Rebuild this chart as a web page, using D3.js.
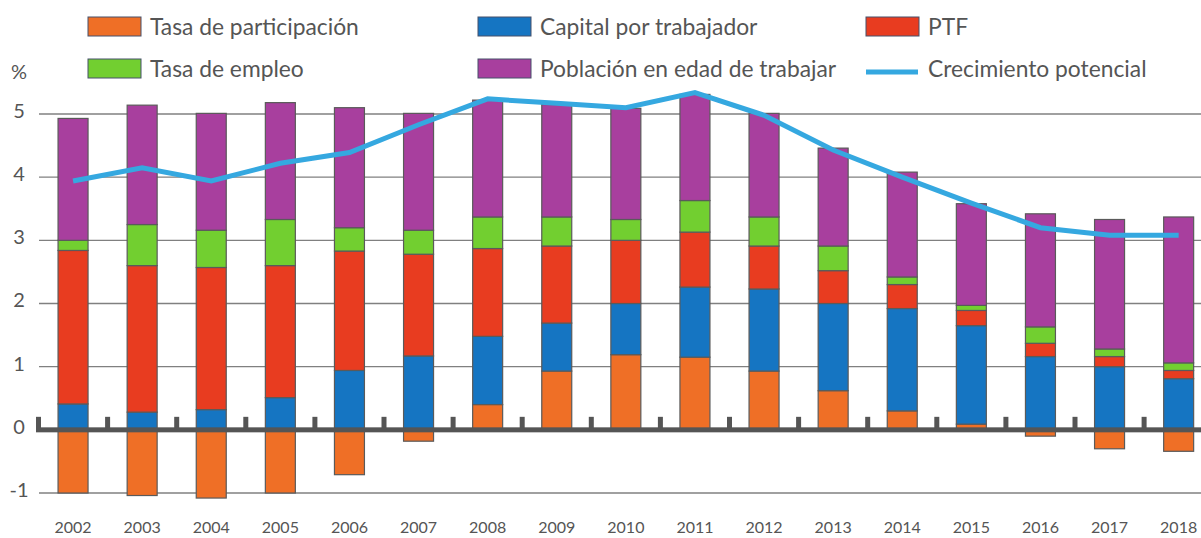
<!DOCTYPE html>
<html>
<head>
<meta charset="utf-8">
<script src="https://cdn.jsdelivr.net/npm/d3@7"></script>
<style>
  body { margin: 0; background: #fff; }
  svg { display: block; font-family: Lato, "Open Sans", sans-serif; }
</style>
</head>
<body>
<svg id="chart" width="1201" height="538"></svg>
<script>
var years = ["2002","2003","2004","2005","2006","2007","2008","2009","2010","2011","2012","2013","2014","2015","2016","2017","2018"];
// componentes (puntos porcentuales)
var participacion = [-1.00,-1.04,-1.08,-1.00,-0.71,-0.18,0.40,0.93,1.19,1.15,0.93,0.62,0.30,0.09,-0.10,-0.30,-0.34];
var capital       = [0.41,0.28,0.32,0.51,0.94,1.17,1.08,0.76,0.81,1.11,1.30,1.38,1.62,1.56,1.16,1.00,0.81];
var ptf           = [2.43,2.32,2.25,2.09,1.89,1.61,1.39,1.22,1.00,0.87,0.68,0.52,0.38,0.24,0.21,0.16,0.13];
var empleo        = [0.16,0.65,0.59,0.73,0.37,0.38,0.50,0.46,0.33,0.50,0.46,0.39,0.12,0.08,0.26,0.12,0.12];
var poblacion     = [1.93,1.89,1.85,1.85,1.90,1.85,1.85,1.78,1.76,1.68,1.64,1.55,1.66,1.61,1.79,2.05,2.31];
var crecimiento   = [3.94,4.15,3.94,4.22,4.39,4.83,5.24,5.17,5.10,5.34,4.98,4.43,4.00,3.59,3.20,3.08,3.08];
var yTicks = [-1,0,1,2,3,4,5];

var series = [
  {key: "participacion", label: "Tasa de participación", values: participacion, color: "#ef6f26"},
  {key: "capital", label: "Capital por trabajador", values: capital, color: "#1575c2"},
  {key: "ptf", label: "PTF", values: ptf, color: "#e83c20"},
  {key: "empleo", label: "Tasa de empleo", values: empleo, color: "#72cf30"},
  {key: "poblacion", label: "Población en edad de trabajar", values: poblacion, color: "#a83f9e"}
];
var lineColor = "#35a8e0";

var data = years.map(function(y, i) {
  var row = {year: y};
  series.forEach(function(s) { row[s.key] = s.values[i]; });
  return row;
});

var svg = d3.select("#chart");
var gridLeft = 39, right = 1201;

var x = d3.scaleBand()
  .domain(years)
  .range([38.5, 38.5 + 17 * 69.1])
  .paddingInner(0.566)
  .paddingOuter(0.283);

var y = d3.scaleLinear()
  .domain([-1, 5])
  .range([493, 114]);

var color = d3.scaleOrdinal()
  .domain(series.map(function(s) { return s.key; }))
  .range(series.map(function(s) { return s.color; }));

// gridlines
svg.append("g")
  .selectAll("line")
  .data(yTicks.filter(function(d) { return d !== 0; }))
  .enter().append("line")
    .attr("x1", gridLeft).attr("x2", right)
    .attr("y1", function(d) { return y(d); })
    .attr("y2", function(d) { return y(d); })
    .attr("stroke", "#808080")
    .attr("stroke-width", 1.4);

// stacked bars
var stacked = d3.stack()
  .keys(series.map(function(s) { return s.key; }))
  .offset(d3.stackOffsetDiverging)(data);

svg.append("g")
  .selectAll("g")
  .data(stacked)
  .enter().append("g")
    .attr("fill", function(d) { return color(d.key); })
  .selectAll("rect")
  .data(function(d) { return d; })
  .enter().append("rect")
    .attr("x", function(d) { return x(d.data.year); })
    .attr("y", function(d) { return y(Math.max(d[0], d[1])); })
    .attr("width", x.bandwidth())
    .attr("height", function(d) { return Math.abs(y(d[0]) - y(d[1])); })
    .attr("stroke", "#5a5a5a")
    .attr("stroke-width", 1.2);

// zero line with ticks between bars
var gap = (x.step() - x.bandwidth()) / 2;
var tickX = years.map(function(d) { return x(d) - gap; }).concat([x(years[years.length - 1]) + x.bandwidth() + gap]);
var zero = svg.append("g").attr("fill", "#555");
zero.append("rect")
  .attr("x", 36).attr("width", right - 36)
  .attr("y", y(0) - 2.5).attr("height", 5);
zero.selectAll(".tk")
  .data(tickX)
  .enter().append("rect")
    .attr("class", "tk")
    .attr("x", function(d) { return d - 2.5; })
    .attr("width", 5)
    .attr("y", y(0) - 13)
    .attr("height", 13);

// potential growth line
var line = d3.line()
  .x(function(d, i) { return x(years[i]) + x.bandwidth() / 2; })
  .y(function(d) { return y(d); });

svg.append("path")
  .datum(crecimiento)
  .attr("d", line)
  .attr("fill", "none")
  .attr("stroke", lineColor)
  .attr("stroke-width", 5);

// axes
var yAxis = svg.append("g")
  .call(d3.axisLeft(y).tickValues(yTicks).tickSize(0).tickFormat(function(d) { return String(d); }));
yAxis.select(".domain").remove();
yAxis.selectAll("text")
  .attr("x", 19).attr("dy", "0.32em").attr("y", -3)
  .attr("text-anchor", "middle")
  .attr("fill", "#555")
  .style("font-size", "20px")
  .style("font-family", "Lato, sans-serif");

var xAxis = svg.append("g")
  .attr("transform", "translate(0,519)")
  .call(d3.axisBottom(x).tickSize(0));
xAxis.select(".domain").remove();
xAxis.selectAll("text")
  .attr("fill", "#555")
  .style("font-size", "16px")
  .style("font-family", "Lato, sans-serif");

svg.append("text")
  .attr("x", 19).attr("y", 79)
  .attr("text-anchor", "middle")
  .attr("fill", "#555")
  .style("font-size", "20px")
  .text("%");

// legend
var legendItems = [
  {label: series[0].label, color: series[0].color, col: 0, row: 0},
  {label: series[1].label, color: series[1].color, col: 1, row: 0},
  {label: series[2].label, color: series[2].color, col: 2, row: 0},
  {label: series[3].label, color: series[3].color, col: 0, row: 1},
  {label: series[4].label, color: series[4].color, col: 1, row: 1},
  {label: "Crecimiento potencial", color: lineColor, col: 2, row: 1, line: true}
];
var colX = [88, 478, 866], rowY = [17, 59];

var lg = svg.append("g").selectAll("g")
  .data(legendItems)
  .enter().append("g")
    .attr("transform", function(d) { return "translate(" + colX[d.col] + "," + rowY[d.row] + ")"; });

lg.filter(function(d) { return !d.line; })
  .append("rect")
    .attr("width", 53).attr("height", 19)
    .attr("fill", function(d) { return d.color; })
    .attr("stroke", "#46506a")
    .attr("stroke-width", 1);

lg.filter(function(d) { return d.line; })
  .append("line")
    .attr("x1", 0).attr("x2", 52)
    .attr("y1", 13).attr("y2", 13)
    .attr("stroke", function(d) { return d.color; })
    .attr("stroke-width", 5);

lg.append("text")
  .attr("x", 62).attr("y", 10)
  .attr("dy", "0.35em")
  .attr("fill", "#555")
  .style("font-size", "22.8px")
  .text(function(d) { return d.label; });
</script>
</body>
</html>
